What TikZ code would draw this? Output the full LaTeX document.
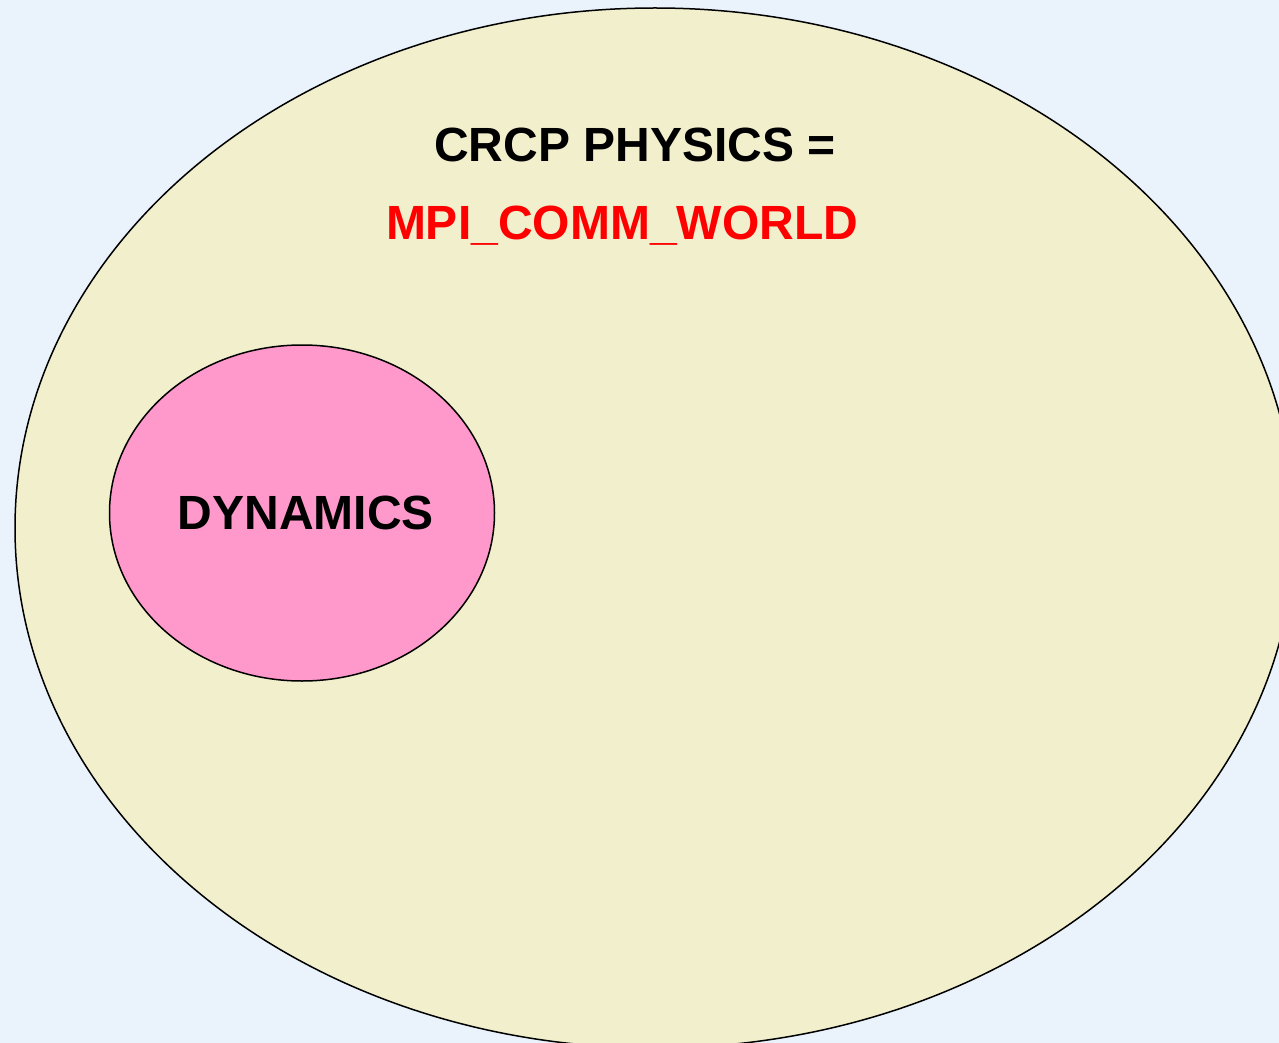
\documentclass[tikz,border=0pt]{standalone}
\usepackage{fontspec}
\setmainfont{Liberation Sans}
\definecolor{skyback}{RGB}{234, 243, 252}
\definecolor{worldfill}{RGB}{241, 239, 204}
\definecolor{dynpink}{RGB}{255, 153, 204}
\definecolor{commred}{RGB}{255, 0, 0}
\usetikzlibrary{shapes.geometric, positioning}

\begin{document}
\begin{tikzpicture}[x=0.5pt, y=-0.5pt,
    blob/.style={ellipse, draw=black, line width=0.75pt, inner sep=0pt},
    bigtext/.style={font=\fontsize{24}{28}\selectfont\bfseries}]
    % Page
    \useasboundingbox (0, 0) rectangle (1279, 1043);
    \clip (0, 0) rectangle (1279, 1043);
    \fill[skyback] (0, 0) rectangle (1279, 1043);

    % Whole world
    \node[blob, fill=worldfill, minimum width=640pt, minimum height=520pt] (physics) at (655, 528) {};
    \node[bigtext] (title) at (635, 145) {CRCP PHYSICS =};
    \node[bigtext, text=commred] (world) at (622, 226) {MPI\_COMM\_WORLD};

    % Dynamics subset
    \node[blob, fill=dynpink, minimum width=192.5pt, minimum height=168pt] (dynamics) at (302, 513) {};
    \node[bigtext] (dynlabel) at ([xshift=2pt]dynamics.center) {DYNAMICS};
\end{tikzpicture}
\end{document}
